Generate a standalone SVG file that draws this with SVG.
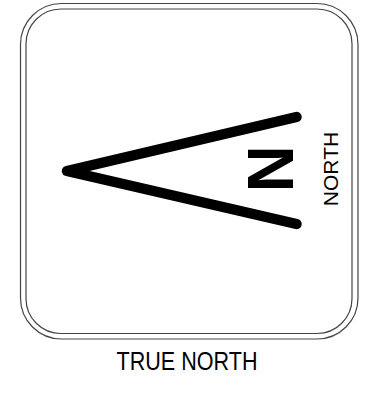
<svg xmlns="http://www.w3.org/2000/svg" width="379" height="394" viewBox="0 0 379 394">
<style>
.frame{fill:none;stroke:#444;stroke-width:1.2}
.arrow{fill:none;stroke:#000;stroke-width:10.5;stroke-linecap:round;stroke-linejoin:round}
.lbl{font-family:"Liberation Sans",Arial,sans-serif;fill:#000}
</style>
<rect width="379" height="394" fill="#fff"/>
<g id="frame">
<rect class="frame" x="20.5" y="3.5" width="337.5" height="335.5" rx="41" ry="41"/>
<rect class="frame" x="26" y="9" width="326" height="324.5" rx="35" ry="35"/>
</g>
<g id="north-arrow">
<polyline class="arrow" points="296.5,117 67,171 296.5,224"/>
<text class="lbl" transform="translate(293.3,168.7) rotate(-90)" text-anchor="middle" font-size="65" font-weight="bold">N</text>
<text class="lbl" transform="translate(338,169) rotate(-90)" text-anchor="middle" font-size="21">NORTH</text>
</g>
<g id="caption">
<text class="lbl" x="187" y="370" text-anchor="middle" font-size="26" textLength="141" lengthAdjust="spacingAndGlyphs">TRUE NORTH</text>
</g>
</svg>
